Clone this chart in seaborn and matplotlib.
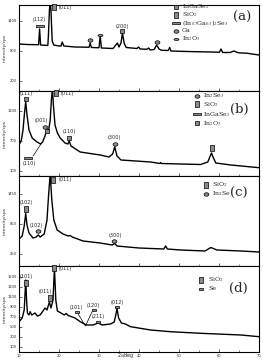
import numpy as np
import pandas as pd
import seaborn as sns
import matplotlib
matplotlib.use("Agg")
import matplotlib.pyplot as plt

sns.set_style("ticks")
plt.rcParams["font.family"] = ["DejaVu Sans"]
plt.rcParams["mathtext.fontset"] = "stix"

# ---------------- data (2theta in deg, intensity in cps) ----------------
theta_a = [10.0, 12.0, 14.9, 15.15, 15.4, 17.2, 17.35, 17.6, 17.8, 18.0, 18.3, 18.7, 20.0, 20.5, 20.8, 21.2,
           24.0, 27.5, 27.8, 28.1, 30.0, 30.3, 30.6, 33.5, 34.6, 35.0, 35.5, 35.86, 36.3, 36.8, 39.5, 39.9,
           40.3, 42.0, 42.4, 42.8, 43.8, 44.4, 45.0, 45.6, 47.3, 47.66, 48.0, 52.0, 55.0, 58.0, 60.1, 60.5,
           60.9, 62.8, 63.7, 64.8, 67.0, 70.0]
int_a = [940, 930, 925, 1240, 920, 910, 1100, 1600, 1850, 1600, 1000, 920, 900, 900, 980, 900,
         880, 875, 960, 870, 865, 1100, 860, 850, 960, 880, 960, 1160, 950, 870, 850, 880,
         840, 835, 860, 820, 830, 920, 840, 815, 810, 870, 800, 790, 785, 780, 775, 840,
         770, 770, 800, 765, 755, 720]

theta_b = [10.0, 10.6, 11.0, 11.4, 11.68, 12.0, 12.5, 13.3, 14.5, 15.4, 15.9, 16.5, 16.95, 17.3, 17.8,
           18.1, 18.36, 18.6, 19.0, 19.6, 20.3, 21.5, 22.2, 22.55, 23.0, 25.3, 30.3, 32.5, 33.4, 33.93,
           34.5, 35.5, 42.9, 45.2, 45.4, 45.6, 55.4, 57.2, 57.8, 58.13, 58.5, 59.2, 63.0, 70.0]
int_b = [620, 720, 920, 1280, 1486, 1220, 920, 760, 680, 640, 680, 800, 920, 860, 1120,
         1520, 1760, 1420, 1020, 860, 760, 660, 640, 700, 600, 480, 420, 380, 440, 580,
         400, 320, 280, 250, 270, 250, 230, 280, 400, 460, 380, 260, 220, 166]

theta_c = [10.0, 10.8, 11.3, 11.68, 12.0, 12.5, 13.5, 14.3, 14.8, 15.3, 16.3, 17.0, 17.4, 17.8, 18.2,
           18.7, 19.54, 21.0, 22.3, 22.8, 23.3, 26.0, 30.3, 33.3, 33.93, 34.5, 40.0, 46.2, 46.66, 47.1,
           50.4, 56.5, 57.95, 59.5, 65.5, 70.0]
int_c = [540, 600, 800, 1054, 820, 660, 560, 580, 620, 580, 640, 920, 1420, 1840, 1320,
         920, 720, 640, 600, 610, 580, 500, 460, 420, 450, 400, 360, 340, 400, 340,
         320, 300, 370, 320, 300, 280]

theta_d = [10.0, 10.8, 11.3, 11.5, 11.68, 11.9, 12.1, 12.5, 12.76, 13.2, 14.0, 14.6, 15.27, 16.0, 16.5,
           17.0, 17.6, 18.0, 18.5, 18.86, 19.2, 19.6, 20.5, 21.3, 21.8, 22.3, 24.0, 25.3, 26.8, 28.5,
           29.8, 30.8, 32.85, 33.8, 34.2, 34.5, 34.9, 35.6, 36.6, 37.9, 42.9, 47.9, 55.4, 65.5, 70.0]
int_d = [606, 680, 840, 1140, 1440, 1040, 780, 740, 806, 740, 780, 720, 740, 820, 880,
         840, 1000, 880, 1040, 1680, 1040, 820, 780, 740, 770, 730, 680, 606, 540, 540,
         580, 540, 560, 600, 740, 874, 680, 580, 560, 506, 440, 406, 374, 340, 306]

x_ticks = [10, 20, 30, 40, 50, 60, 70]
y_ticks_a = [200, 800, 1400]
y_ticks_b = [100, 700, 1300]
y_ticks_c = [250, 850, 1450]
y_ticks_d = [100, 300, 500, 700, 900, 1100, 1300, 1500]

legend_a = ["InGaSe$_2$", "SiO$_2$", "(In$_{0.7}$Ga$_{0.3}$)$_2$Se$_3$", "Ga", "In$_2$O$_3$"]
legend_b = ["In$_2$Se$_3$", "SiO$_2$", "InGaSe$_2$", "In$_2$O$_3$"]
legend_c = ["SiO$_2$", "In$_2$Se"]
legend_d = ["SiO$_2$", "Se"]

# ---------------- figure ----------------
W, H = 263, 363
fig = plt.figure(figsize=(W / 100, H / 100), dpi=100)


def fx(px):
    return px / W


def fy(py):
    return 1 - py / H


def ellipse(rx, ry, n=40):
    t = np.linspace(0, 2 * np.pi, n)
    return list(zip(rx * np.cos(t), ry * np.sin(t)))


def rect(w, h):
    return [(-w / 2, -h / 2), (w / 2, -h / 2), (w / 2, h / 2), (-w / 2, h / 2), (-w / 2, -h / 2)]


SHAPES = {
    "sq": ("s", 3.0),
    "tall": (rect(0.58, 1.0), 4.3),
    "wide": (rect(1.0, 0.33), 5.2),
    "ell": (ellipse(0.5, 0.36), 3.5),
    "dash": (ellipse(0.5, 0.2), 3.6),
    "se": (rect(1.0, 0.45), 3.1),
}
FILL = "#8a8a8a"


def put_marker(ax, x, y, kind, **kw):
    m, s = SHAPES[kind]
    ax.plot([x], [y], marker=m, markersize=s, markerfacecolor=FILL, markeredgecolor="black",
            markeredgewidth=0.5, linestyle="none", clip_on=False, zorder=5, **kw)


def label(ax, x, y, s, ha="center"):
    ax.text(x, y, s, fontsize=3.6, ha=ha, va="center", zorder=6)


def legend(ax, kinds, texts, mx, tx, rows):
    for k, t, r in zip(kinds, texts, rows):
        put_marker(ax, fx(mx), fy(r), k, transform=fig.transFigure)
        fig.text(fx(tx), fy(r), t, fontsize=4.5, family="DejaVu Serif", va="center", ha="left")


panels = [(5, 91), (91, 176), (176, 266), (266, 352)]
datasets = [(theta_a, int_a, 1720, y_ticks_a), (theta_b, int_b, 1700, y_ticks_b),
            (theta_c, int_c, 1800, y_ticks_c), (theta_d, int_d, 1720, y_ticks_d)]
axes = []
for i, ((top, bot), (xs, ys, ymax, yt)) in enumerate(zip(panels, datasets)):
    ax = fig.add_axes([fx(19), fy(bot), fx(259) - fx(19), (bot - top) / H])
    df = pd.DataFrame({"theta": xs, "I": ys})
    sns.lineplot(data=df, x="theta", y="I", ax=ax, color="black", linewidth=1.0,
                 estimator=None, sort=False)
    ax.set_xlim(10, 70)
    ax.set_ylim(0, ymax)
    ax.set_xticks(x_ticks)
    ax.set_xticks([15, 25, 35, 45, 55, 65], minor=True)
    ax.set_yticks(yt)
    ax.set_yticklabels([str(v) for v in yt])
    ax.tick_params(direction="in", length=2, width=0.5, labelsize=2.6, pad=1.5)
    ax.tick_params(which="minor", direction="in", length=1.2, width=0.4)
    for sp in ax.spines.values():
        sp.set_linewidth(0.8)
        sp.set_color("black")
    ax.set_xlabel("")
    ax.set_ylabel("")
    if i < 3:
        ax.set_xticklabels([])
    else:
        ax.set_xticklabels([str(v) for v in x_ticks])
    fig.text(fx(5), fy((top + bot) / 2), "intensity/cps", rotation=90, fontsize=3.2,
             ha="center", va="center")
    axes.append(ax)

fig.text(fx(126), fy(356), r"2$\theta$/deg", fontsize=3.4, ha="center", va="center")

# ---- panel (a)
ax = axes[0]
put_marker(ax, 15.15, 1300, "wide"); label(ax, 15.0, 1420, "(112)")
put_marker(ax, 18.66, 1680, "tall"); label(ax, 19.9, 1680, "(011)", ha="left")
put_marker(ax, 27.8, 1030, "ell")
put_marker(ax, 30.3, 1130, "dash")
put_marker(ax, 35.86, 1200, "sq"); label(ax, 35.86, 1290, "(200)")
put_marker(ax, 44.4, 990, "ell")
legend(ax, ["sq", "tall", "wide", "ell", "dash"], legend_a, 176, 182, [7, 15, 23, 31, 39])
fig.text(fx(242), fy(17), "(a)", fontsize=9.5, family="DejaVu Serif", ha="center", va="center")

# ---- panel (b)
ax = axes[1]
put_marker(ax, 11.76, 1550, "sq"); label(ax, 11.76, 1654, "(111)")
put_marker(ax, 19.3, 1654, "tall"); label(ax, 20.4, 1654, "(011)", ha="left")
put_marker(ax, 16.5, 986, "ell"); label(ax, 15.7, 1106, "(001)")
put_marker(ax, 16.95, 900, "sq")
ax.plot([13.5, 15.5], [400, 640], color="black", lw=0.5)
put_marker(ax, 12.26, 354, "wide"); label(ax, 12.5, 240, "(110)")
put_marker(ax, 22.55, 766, "sq"); label(ax, 22.55, 886, "(110)")
put_marker(ax, 33.93, 640, "ell"); label(ax, 33.85, 766, "(300)")
put_marker(ax, 58.13, 554, "tall")
legend(ax, ["ell", "tall", "wide", "sq"], legend_b, 197, 203, [95.7, 104.3, 114.3, 123.3])
fig.text(fx(239), fy(109), "(b)", fontsize=9.5, family="DejaVu Serif", ha="center", va="center")

# ---- panel (c)
ax = axes[2]
put_marker(ax, 18.5, 1720, "tall"); label(ax, 19.9, 1720, "(011)", ha="left")
put_marker(ax, 11.76, 1134, "tall"); label(ax, 11.76, 1266, "(102)")
put_marker(ax, 14.85, 700, "ell"); label(ax, 14.27, 820, "(102)")
put_marker(ax, 33.85, 500, "ell"); label(ax, 34.1, 620, "(300)")
legend(ax, ["tall", "ell"], legend_c, 206, 212, [184.5, 193.5])
fig.text(fx(239), fy(193.5), "(c)", fontsize=9.5, family="DejaVu Serif", ha="center", va="center")

# ---- panel (d)
ax = axes[3]
put_marker(ax, 11.76, 1374, "tall"); label(ax, 11.76, 1506, "(101)")
put_marker(ax, 18.86, 1674, "tall"); label(ax, 20.0, 1674, "(011)", ha="left")
put_marker(ax, 17.8, 1074, "tall"); label(ax, 16.5, 1206, "(011)")
ax.plot([24.8, 26.6, 28.3], [760, 520, 810], color="black", lw=0.5)
put_marker(ax, 24.5, 794, "se"); label(ax, 24.3, 894, "(101)")
put_marker(ax, 28.65, 840, "se"); label(ax, 28.65, 940, "(120)")
put_marker(ax, 29.66, 594, "se"); label(ax, 29.9, 706, "(211)")
put_marker(ax, 34.5, 894, "se"); label(ax, 34.5, 986, "(012)")
legend(ax, ["tall", "se"], legend_d, 201, 208, [280, 288.5])
fig.text(fx(238), fy(288.5), "(d)", fontsize=9.5, family="DejaVu Serif", ha="center", va="center")

fig.savefig("out.png", dpi=100)
